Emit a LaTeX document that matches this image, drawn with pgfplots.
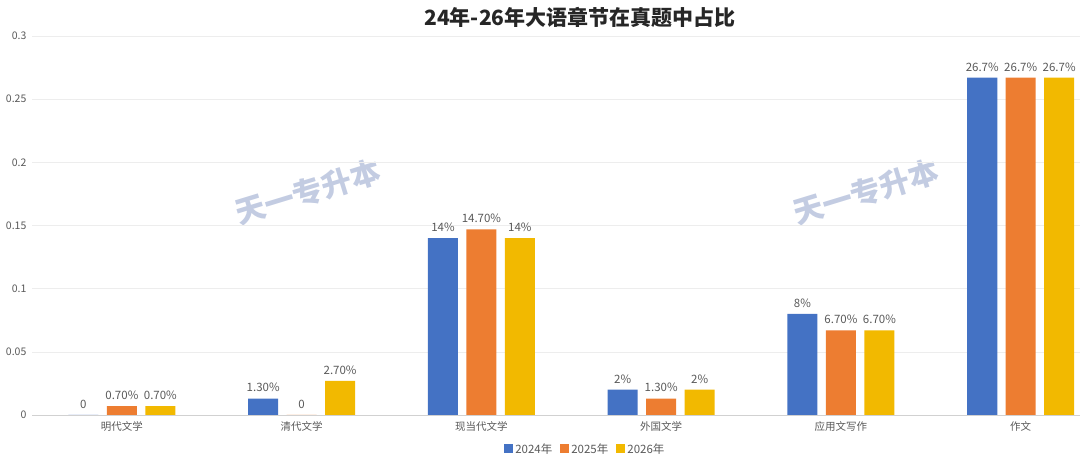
\documentclass[border=0pt]{standalone}
\usepackage{fontspec}
\setmainfont{Noto Sans CJK SC}
\usepackage{pgfplots}
\pgfplotsset{compat=1.18}
\definecolor{cA}{HTML}{4472C4}
\definecolor{cB}{HTML}{ED7D31}
\definecolor{cC}{HTML}{F2B900}
\definecolor{txt}{HTML}{595959}
\definecolor{wm}{HTML}{C3CCE2}
\begin{document}
\begin{tikzpicture}
\useasboundingbox (0,0) rectangle (1080pt,460pt);
\node[font=\bfseries\fontsize{21}{24}\selectfont, text=black!85] at (580pt,443pt) {24年-26年大语章节在真题中占比};
\node[font=\bfseries\fontsize{30}{32}\selectfont, text=wm, rotate=17] at (308pt,268pt) {天一专升本};
\node[font=\bfseries\fontsize{30}{32}\selectfont, text=wm, rotate=17] at (866pt,268pt) {天一专升本};
\begin{axis}[
  at={(32pt,45pt)}, anchor=south west,
  scale only axis, width=1048pt, height=379pt,
  xmin=-0.5, xmax=5.33, ymin=0, ymax=0.3,
  ybar, bar width=0.167,
  axis x line=bottom, axis y line=left,
  x axis line style={draw=black!18,-},
  y axis line style={draw=none},
  tick style={draw=none},
  ymajorgrids, grid style={draw=black!7},
  ytick={0,0.05,0.1,0.15,0.2,0.25,0.3},
  yticklabels={0,0.05,0.1,0.15,0.2,0.25,0.3},
  yticklabel style={font=\fontsize{10.5}{12}\selectfont, text=txt},
  xtick={0,1,2,3,4,5},
  xticklabels={明代文学,清代文学,现当代文学,外国文学,应用文写作,作文},
  xticklabel style={font=\fontsize{10.5}{12}\selectfont, text=txt, yshift=-1pt},
  nodes near coords, point meta=explicit symbolic,
  every node near coord/.append style={font=\fontsize{11.5}{13}\selectfont, text=txt, yshift=3pt},
  legend columns=3,
  legend style={at={(0.528,-0.0897)}, anchor=center, draw=none, fill=none,
    font=\fontsize{11.5}{13}\selectfont, text=txt,
    /tikz/every even column/.append style={column sep=6pt}},
  legend image code/.code={\fill[#1] (0pt,-4.5pt) rectangle (9pt,4.5pt);},
]
\addplot[fill=cA, draw=none, bar shift=-0.214] coordinates {
(0,0) [0] (1,0.013) [1.30\%] (2,0.14) [14\%] (3,0.02) [2\%] (4,0.08) [8\%] (5,0.267) [26.7\%]};
\addplot[fill=cB, draw=none, bar shift=0] coordinates {
(0,0.007) [0.70\%] (1,0) [0] (2,0.147) [14.70\%] (3,0.013) [1.30\%] (4,0.067) [6.70\%] (5,0.267) [26.7\%]};
\addplot[fill=cC, draw=none, bar shift=0.214] coordinates {
(0,0.007) [0.70\%] (1,0.027) [2.70\%] (2,0.14) [14\%] (3,0.02) [2\%] (4,0.067) [6.70\%] (5,0.267) [26.7\%]};
\legend{2024年,2025年,2026年}
\end{axis}
\end{tikzpicture}
\end{document}
